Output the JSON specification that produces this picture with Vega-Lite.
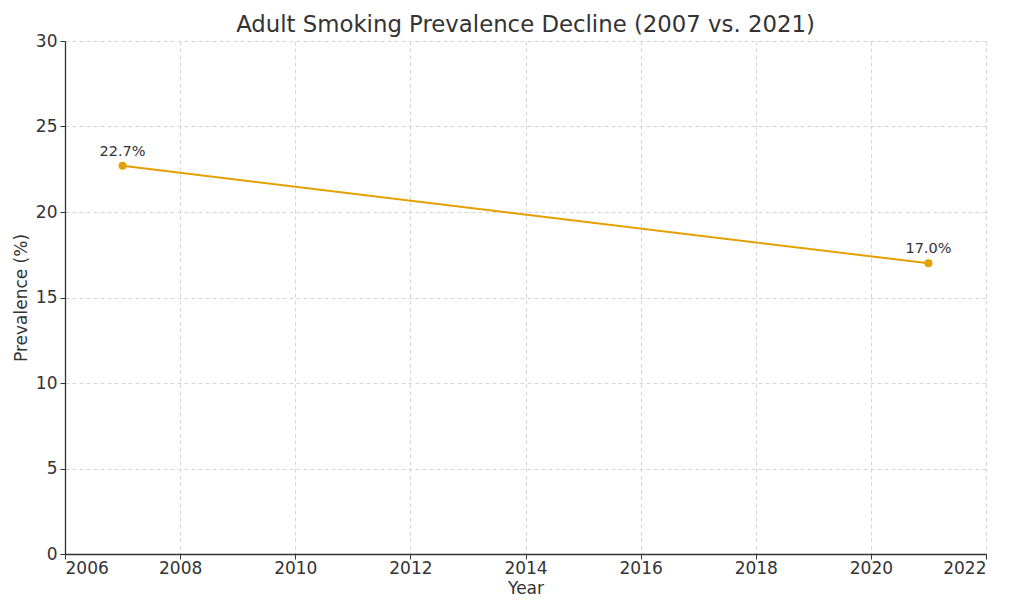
{
  "$schema": "https://vega.github.io/schema/vega-lite/v6.json",
  "autosize": "none",
  "padding": {"left": 65, "top": 41, "right": 38, "bottom": 60},
  "width": 921,
  "height": 513,
  "background": "white",
  "title": {
    "text": "Adult Smoking Prevalence Decline (2007 vs. 2021)",
    "font": "DejaVu Sans",
    "fontSize": 22.8,
    "fontWeight": "normal",
    "color": "#333333",
    "offset": 4,
    "dy": 9
  },
  "config": {
    "view": {"stroke": null},
    "axis": {
      "labelFont": "DejaVu Sans",
      "titleFont": "DejaVu Sans",
      "labelFontSize": 17,
      "titleFontSize": 17,
      "titleFontWeight": "normal",
      "labelColor": "#333333",
      "titleColor": "#333333",
      "domainColor": "#333333",
      "domainWidth": 1.3,
      "tickColor": "#333333",
      "tickSize": 5,
      "gridColor": "#cccccc",
      "gridDash": [4, 3],
      "gridWidth": 0.8
    }
  },
  "data": {
    "values": [
      {"year": 2007, "prevalence": 22.7, "label": "22.7%"},
      {"year": 2021, "prevalence": 17.0, "label": "17.0%"}
    ]
  },
  "encoding": {
    "x": {
      "field": "year",
      "type": "quantitative",
      "scale": {"domain": [2006, 2022], "nice": false, "zero": false},
      "axis": {"title": "Year", "format": "d", "values": [2006, 2008, 2010, 2012, 2014, 2016, 2018, 2020, 2022], "labelPadding": 1, "titlePadding": 4}
    },
    "y": {
      "field": "prevalence",
      "type": "quantitative",
      "scale": {"domain": [0, 30], "nice": false},
      "axis": {"title": "Prevalence (%)", "values": [0, 5, 10, 15, 20, 25, 30], "labelPadding": 3, "titlePadding": 5}
    }
  },
  "layer": [
    {"mark": {"type": "line", "color": "#E69F00", "strokeWidth": 2}},
    {"mark": {"type": "point", "filled": true, "opacity": 1, "color": "#E69F00", "size": 64}},
    {
      "mark": {"type": "text", "dy": -14, "font": "DejaVu Sans", "fontSize": 14.5, "color": "#333333"},
      "encoding": {"text": {"field": "label"}}
    }
  ]
}
